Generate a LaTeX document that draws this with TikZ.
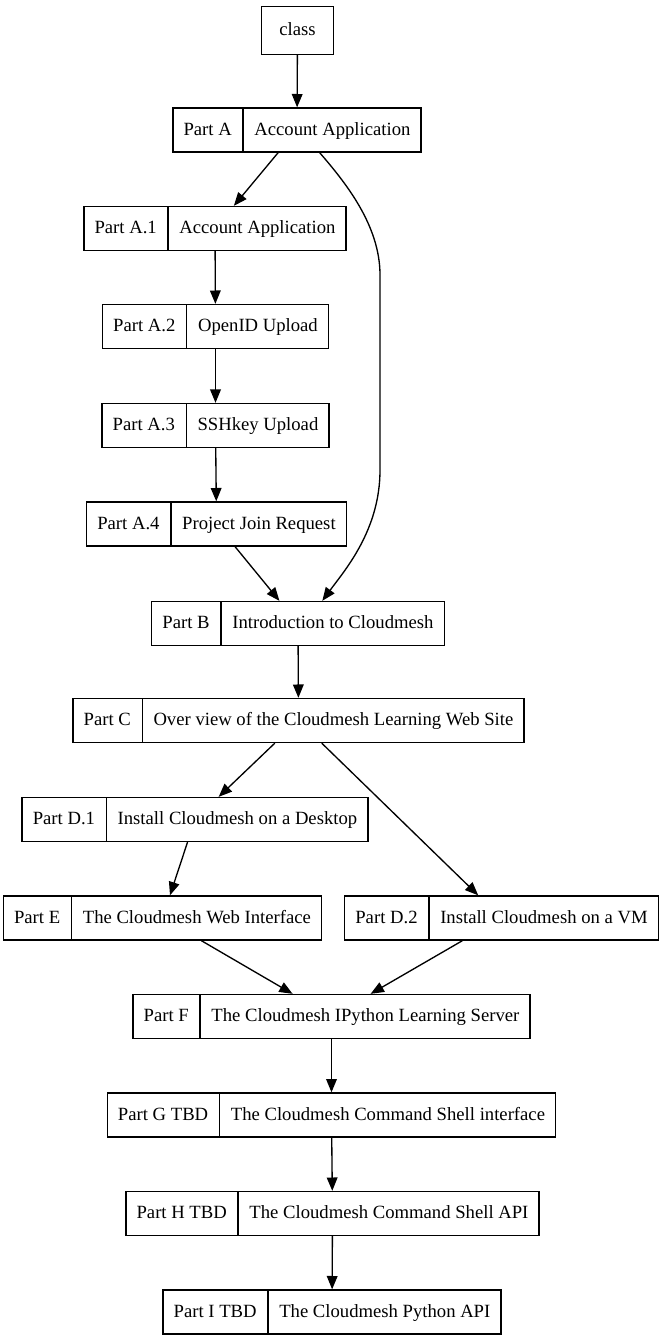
\documentclass[tikz,border=0pt]{standalone}
\usepackage{fontspec}
\setmainfont{Liberation Serif}
\usetikzlibrary{shapes.multipart,arrows.meta}
\newcommand{\rs}{\rule[-3pt]{0pt}{14pt}}

\begin{document}
\begin{tikzpicture}
  [x=0.75pt,y=-0.75pt,line width=1pt,font=\fontsize{14}{17}\selectfont,
   rec/.style={draw,rectangle split,rectangle split horizontal,
     rectangle split parts=2,inner xsep=8pt,inner ysep=9.5pt},
   edge/.style={-{Triangle[length=10pt,width=8pt]}}]
  \useasboundingbox (0,0) rectangle (661,1344);

  \node[draw,minimum width=54pt,minimum height=36pt] (cls) at (297.5,30.5) {\rs class};
  \node[rec] (a) at (297,130) {\rs Part A\nodepart{two}\rs Account Application};
  \node[rec] (a1) at (215,228.5) {\rs Part A.1\nodepart{two}\rs Account Application};
  \node[rec] (a2) at (215.5,326.5) {\rs Part A.2\nodepart{two}\rs OpenID Upload};
  \node[rec] (a3) at (215.5,425.5) {\rs Part A.3\nodepart{two}\rs SSHkey Upload};
  \node[rec] (a4) at (216.5,524) {\rs Part A.4\nodepart{two}\rs Project Join Request};
  \node[rec] (b) at (298,623.5) {\rs Part B\nodepart{two}\rs Introduction to Cloudmesh};
  \node[rec] (c) at (298.5,720.5) {\rs Part C\nodepart{two}\rs Over view of the Cloudmesh Learning Web Site};
  \node[rec] (d1) at (195,819.5) {\rs Part D.1\nodepart{two}\rs Install Cloudmesh on a Desktop};
  \node[rec] (e) at (162.5,918) {\rs Part E\nodepart{two}\rs The Cloudmesh Web Interface};
  \node[rec] (d2) at (501.5,918) {\rs Part D.2\nodepart{two}\rs Install Cloudmesh on a VM};
  \node[rec] (f) at (331.5,1016.5) {\rs Part F\nodepart{two}\rs The Cloudmesh IPython Learning Server};
  \node[rec] (g) at (331.5,1115) {\rs Part G TBD\nodepart{two}\rs The Cloudmesh Command Shell interface};
  \node[rec] (h) at (332.5,1213.5) {\rs Part H TBD\nodepart{two}\rs The Cloudmesh Command Shell API};
  \node[rec] (i) at (332,1312) {\rs Part I TBD\nodepart{two}\rs The Cloudmesh Python API};

  \foreach \from/\to in {cls/a,a/a1,a1/a2,a2/a3,a3/a4,a4/b,b/c,c/d1,c/d2,d1/e,e/f,d2/f,f/g,g/h,h/i}
    \draw[edge] (\from) -- (\to);

  % long edge from part A straight to part B
  \draw[edge] (a.-45) .. controls (345,182) and (380,225) .. (380,275)
    -- (380,470) .. controls (380,530) and (345,570) .. (b.43);

\end{tikzpicture}
\end{document}
